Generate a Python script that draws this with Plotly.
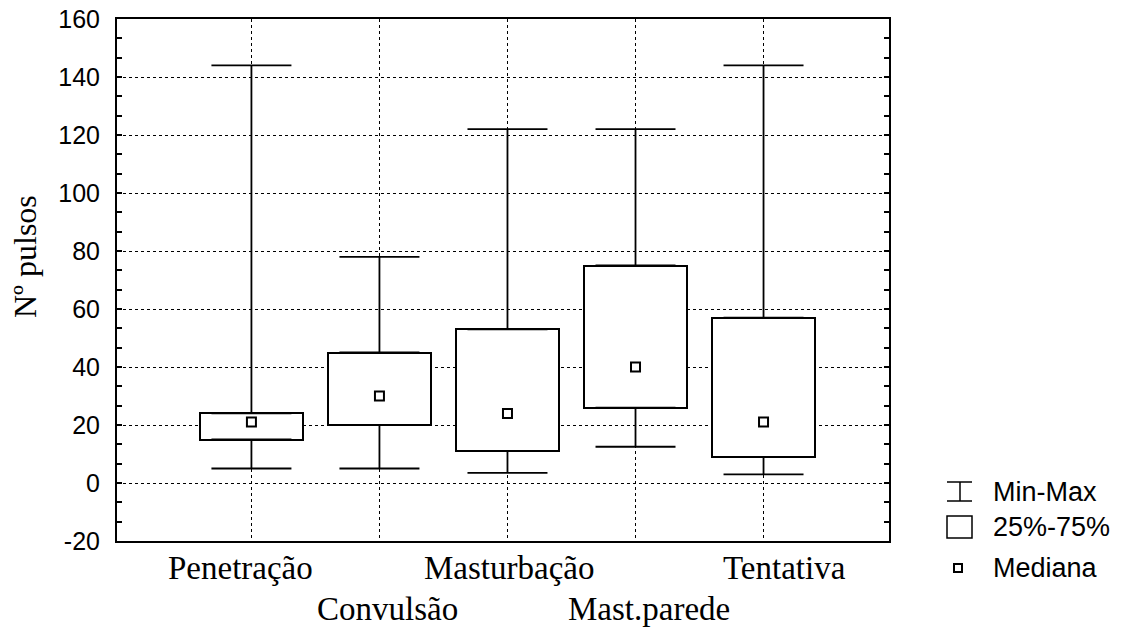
import plotly.graph_objects as go

# Number of pulses per behaviour: min, quartiles, median, max
categories = ["Penetração", "Convulsão", "Masturbação", "Mast.parede", "Tentativa"]
mins = [5, 5, 3.5, 12.5, 3]
q1 = [15, 20, 11, 26, 9]
medians = [21, 30, 24, 40, 21]
q3 = [24, 45, 53, 75, 57]
maxs = [144, 78, 122, 122, 144]
y_ticks = [-20, 0, 20, 40, 60, 80, 100, 120, 140, 160]
y_tick_text = ["-20", "0", "20", "40", "60", "80", "100", "120", "140", "160"]

W, H = 1124, 630
L, R, T, B = 117, 889, 19, 541
xpos = list(range(len(categories)))


def px(xp):
    return (xp - L) / (R - L)


def py(yp):
    return (B - yp) / (B - T)


fig = go.Figure()

# 25%-75% boxes
fig.add_trace(go.Bar(
    x=xpos, y=[b - a for a, b in zip(q1, q3)], base=q1, width=0.8,
    marker=dict(color="white", line=dict(color="black", width=2)),
    showlegend=False, hoverinfo="skip",
))

# upper whiskers (q3 -> max)
fig.add_trace(go.Scatter(
    x=xpos, y=q3, mode="markers", marker=dict(opacity=0),
    error_y=dict(type="data", symmetric=False,
                 array=[m - b for m, b in zip(maxs, q3)],
                 arrayminus=[0] * len(q3),
                 width=40, thickness=1.8, color="black"),
    showlegend=False, hoverinfo="skip",
))

# lower whiskers (min -> q1)
fig.add_trace(go.Scatter(
    x=xpos, y=q1, mode="markers", marker=dict(opacity=0),
    error_y=dict(type="data", symmetric=False,
                 array=[0] * len(q1),
                 arrayminus=[a - m for a, m in zip(q1, mins)],
                 width=40, thickness=1.8, color="black"),
    showlegend=False, hoverinfo="skip",
))

# medians
fig.add_trace(go.Scatter(
    x=xpos, y=medians, mode="markers",
    marker=dict(symbol="square", size=9, color="white",
                line=dict(color="black", width=2)),
    showlegend=False, hoverinfo="skip",
))

# category labels on two staggered rows
label_shift = [-11, 8, 2, 13, 21]
for i, name in enumerate(categories):
    row_y = 568 if i % 2 == 0 else 609
    fig.add_annotation(
        x=i, xref="x", y=py(row_y), yref="paper", text=name,
        showarrow=False, xanchor="center", yanchor="middle", xshift=label_shift[i],
        font=dict(family="Liberation Serif", size=33, color="black"),
    )

# y-axis title
fig.add_annotation(
    x=px(25), xref="paper", y=py(257), yref="paper", text="Nº pulsos",
    textangle=-90, showarrow=False, xanchor="center", yanchor="middle",
    font=dict(family="Liberation Serif", size=32, color="black"),
)

# legend, drawn by hand
lx0, lx1, lxc = px(947), px(972), px(960)
shapes = [
    dict(type="line", xref="paper", yref="paper", x0=lx0, x1=lx1, y0=py(482), y1=py(482),
         line=dict(color="black", width=1.5)),
    dict(type="line", xref="paper", yref="paper", x0=lx0, x1=lx1, y0=py(501), y1=py(501),
         line=dict(color="black", width=1.5)),
    dict(type="line", xref="paper", yref="paper", x0=lxc, x1=lxc, y0=py(482), y1=py(501),
         line=dict(color="black", width=1.5)),
    dict(type="rect", xref="paper", yref="paper", x0=lx0, x1=lx1, y0=py(516), y1=py(538),
         line=dict(color="black", width=1.5), fillcolor="white"),
    dict(type="rect", xref="paper", yref="paper", x0=px(954), x1=px(962), y0=py(564), y1=py(572),
         line=dict(color="black", width=2), fillcolor="white"),
]
for s in shapes:
    fig.add_shape(**s)

for text, yy in [("Min-Max", 492), ("25%-75%", 527), ("Mediana", 568)]:
    fig.add_annotation(
        x=px(991), xref="paper", y=py(yy), yref="paper", text=text,
        showarrow=False, xanchor="left", yanchor="middle",
        font=dict(family="Liberation Sans", size=27, color="black"),
    )

fig.update_layout(
    template="none",
    width=W, height=H,
    margin=dict(l=L, r=W - R, t=T, b=H - B, pad=0),
    paper_bgcolor="white", plot_bgcolor="white",
    bargap=0, showlegend=False,
    xaxis=dict(
        range=[-1.05, 4.98], tickvals=xpos, showticklabels=False, ticks="",
        automargin=False,
        showgrid=True, gridcolor="black", gridwidth=1.2, griddash="dot",
        showline=True, linecolor="black", linewidth=2, mirror=True, zeroline=False,
    ),
    yaxis=dict(
        range=[-20, 160], tickvals=y_ticks, ticktext=y_tick_text,
        ticks="inside", ticklen=5, automargin=False,
        tickcolor="black", tickwidth=1.5, ticklabelstandoff=10,
        tickfont=dict(family="Liberation Sans", size=25, color="black"),
        showgrid=True, gridcolor="black", gridwidth=1.2, griddash="dot",
        showline=True, linecolor="black", linewidth=2, mirror="ticks", zeroline=False,
        minor=dict(dtick=20 / 3, tick0=0, ticks="inside", ticklen=5,
                   tickcolor="black", tickwidth=1.5, showgrid=False),
    ),
)

fig.write_html("out.html")
